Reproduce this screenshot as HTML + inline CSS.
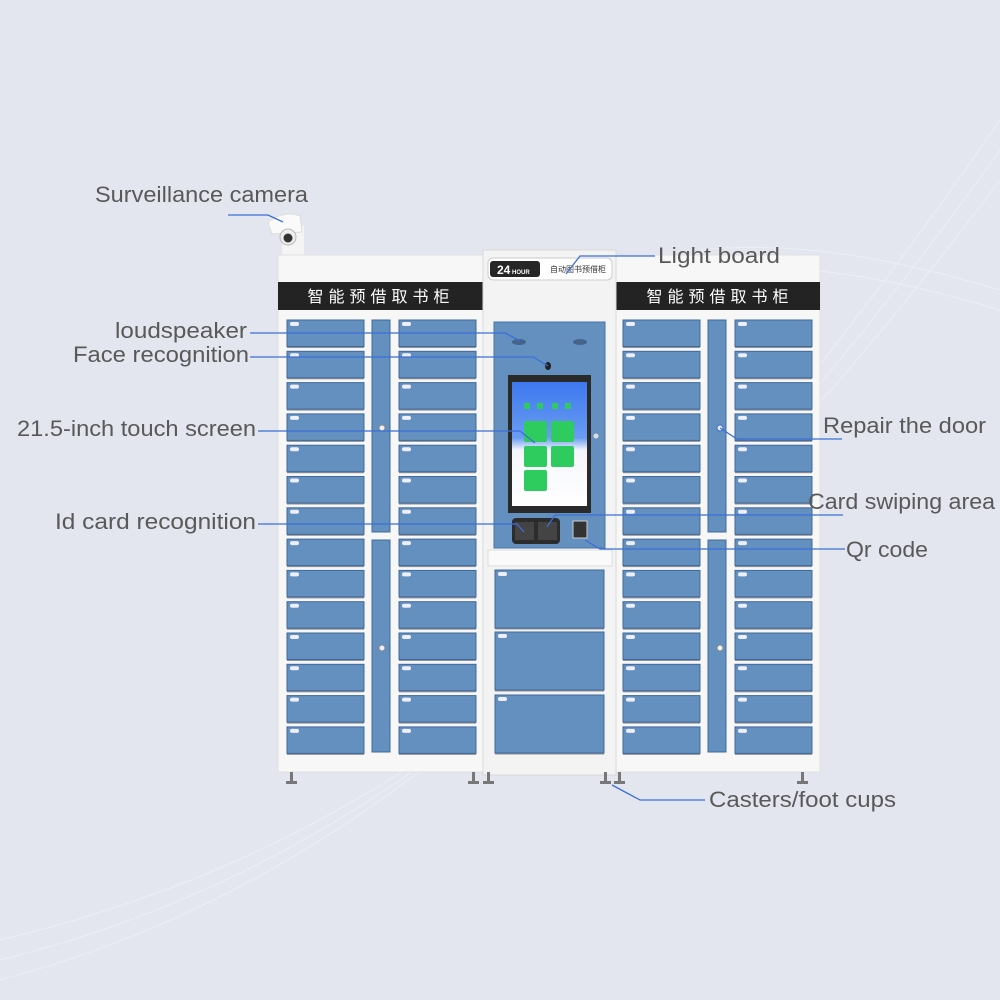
<!DOCTYPE html>
<html><head><meta charset="utf-8"><style>
html,body{margin:0;padding:0;background:#e3e6ee;}
svg{display:block}
.l{font-family:"Liberation Sans","Noto Sans CJK SC",sans-serif;font-size:22px;fill:#595959;}
.cn{font-family:"Noto Sans CJK SC","WenQuanYi Zen Hei",sans-serif;font-size:16px;fill:#fff;letter-spacing:5px;}
.ln{stroke:#3a6fd8;stroke-width:1.3;fill:none}
</style></head><body>
<svg id="s" width="1000" height="1000" viewBox="0 0 1000 1000" xmlns="http://www.w3.org/2000/svg">
<defs>
<linearGradient id="scr" x1="0" y1="0" x2="0" y2="1"><stop offset="0" stop-color="#3d78ef"/><stop offset="0.45" stop-color="#6a9cf2"/><stop offset="0.55" stop-color="#f4f6fb"/><stop offset="1" stop-color="#ffffff"/></linearGradient>
</defs>
<rect width="1000" height="1000" fill="#e3e6ee"/>
<g fill="none" stroke="#eef0f5" stroke-width="1" opacity="0.8">
<path d="M0 980 C300 900 600 700 1000 120"/>
<path d="M0 960 C320 880 620 680 1000 150"/>
<path d="M0 940 C340 860 640 660 1000 180"/>
<path d="M700 250 C800 240 900 260 1000 290"/>
<path d="M700 270 C800 260 900 280 1000 310"/>
</g>
<!-- camera -->
<rect x="282" y="226" width="22" height="32" fill="#f4f4f4"/>
<path d="M268 222 Q285 210 300 216 L302 232 L272 234 Z" fill="#fafafa" stroke="#ddd"/>
<circle cx="288" cy="237" r="8" fill="#eee" stroke="#bbb"/>
<circle cx="288" cy="238" r="4.5" fill="#333"/>
<!-- left cabinet -->
<rect x="278" y="255" width="206" height="517" fill="#f7f7f7" stroke="#e0e0e0"/>
<rect x="278" y="282" width="206" height="28" fill="#232323"/>
<text x="381" y="302" class="cn" text-anchor="middle">智能预借取书柜</text>
<!-- right cabinet -->
<rect x="616" y="255" width="204" height="517" fill="#f7f7f7" stroke="#e0e0e0"/>
<rect x="616" y="282" width="204" height="28" fill="#232323"/>
<text x="720" y="302" class="cn" text-anchor="middle">智能预借取书柜</text>
<!-- center -->
<rect x="483" y="250" width="133" height="525" fill="#f3f3f3" stroke="#d8d8d8"/>
<rect x="488" y="258" width="124" height="22" rx="5" fill="#fff" stroke="#ccc"/>
<rect x="490" y="261" width="50" height="16" rx="3" fill="#262626"/>
<text x="497" y="274" font-family="Liberation Sans" font-size="12" font-weight="bold" fill="#fff">24<tspan font-size="6"> HOUR</tspan></text>
<text x="550" y="272" font-family="Noto Sans CJK SC,sans-serif" font-size="8" fill="#333">自动图书预借柜</text>
<rect x="494" y="322" width="111" height="226" fill="#6390bf" stroke="#4a76a6"/>
<ellipse cx="519" cy="342" rx="7" ry="3" fill="#44648a"/>
<ellipse cx="580" cy="342" rx="7" ry="3" fill="#44648a"/>
<ellipse cx="548" cy="366" rx="3" ry="4" fill="#222"/>
<rect x="508" y="375" width="83" height="138" fill="#2a2a2a"/>
<rect x="512" y="382" width="75" height="124" fill="url(#scr)"/>
<g fill="#2ecc5f">
<rect x="524" y="403" width="6" height="6"/><rect x="537" y="403" width="6" height="6"/><rect x="552" y="403" width="6" height="6"/><rect x="565" y="403" width="6" height="6"/>
<rect x="524" y="421" width="23" height="21" rx="2"/><rect x="551" y="421" width="23" height="21" rx="2"/>
<rect x="524" y="446" width="23" height="21" rx="2"/><rect x="551" y="446" width="23" height="21" rx="2"/>
<rect x="524" y="470" width="23" height="21" rx="2"/>
</g>
<circle cx="596" cy="436" r="2.5" fill="#ddd"/>
<rect x="512" y="518" width="48" height="26" rx="4" fill="#2c2c2c"/>
<rect x="515" y="522" width="19" height="18" fill="#444"/><rect x="538" y="522" width="19" height="18" fill="#444"/>
<rect x="573" y="521" width="14" height="17" fill="#333" stroke="#ccc"/>
<rect x="488" y="550" width="124" height="16" fill="#fafafa" stroke="#ddd"/>
<g id="cl"></g>
<!-- feet -->
<g fill="#777">
<rect x="290" y="772" width="3" height="10"/><rect x="286" y="781" width="11" height="3"/>
<rect x="472" y="772" width="3" height="10"/><rect x="468" y="781" width="11" height="3"/>
<rect x="487" y="772" width="3" height="10"/><rect x="483" y="781" width="11" height="3"/>
<rect x="604" y="772" width="3" height="10"/><rect x="600" y="781" width="11" height="3"/>
<rect x="618" y="772" width="3" height="10"/><rect x="614" y="781" width="11" height="3"/>
<rect x="801" y="772" width="3" height="10"/><rect x="797" y="781" width="11" height="3"/>
</g>
<circle cx="382" cy="428" r="3" fill="#eee" stroke="#888"/>
<circle cx="382" cy="648" r="3" fill="#eee" stroke="#888"/>
<circle cx="720" cy="428" r="3" fill="#eee" stroke="#3a6fd8"/>
<circle cx="720" cy="648" r="3" fill="#eee" stroke="#888"/>
<!-- leader lines -->
<path class="ln" d="M228 215 H268 L283 222"/>
<path class="ln" d="M566 274 L580 256 H655"/>
<path class="ln" d="M250 333 H505 L520 341"/>
<path class="ln" d="M250 357 H533 L548 366"/>
<path class="ln" d="M258 431 H520 L535 443"/>
<path class="ln" d="M258 524 H517 L524 532"/>
<path class="ln" d="M720 428 L737 439 H842"/>
<path class="ln" d="M547 527 L555 515 H843"/>
<path class="ln" d="M585 540 L600 549 H845"/>
<path class="ln" d="M612 785 L640 800 H705"/>
<!-- labels -->
<text class="l" x="95" y="202" textLength="213" lengthAdjust="spacingAndGlyphs">Surveillance camera</text>
<text class="l" x="658" y="263" textLength="122" lengthAdjust="spacingAndGlyphs">Light board</text>
<text class="l" x="115" y="338" textLength="132" lengthAdjust="spacingAndGlyphs">loudspeaker</text>
<text class="l" x="73" y="362" textLength="176" lengthAdjust="spacingAndGlyphs">Face recognition</text>
<text class="l" x="17" y="436" textLength="239" lengthAdjust="spacingAndGlyphs">21.5-inch touch screen</text>
<text class="l" x="55" y="529" textLength="201" lengthAdjust="spacingAndGlyphs">Id card recognition</text>
<text class="l" x="823" y="433" textLength="163" lengthAdjust="spacingAndGlyphs">Repair the door</text>
<text class="l" x="808" y="509" textLength="187" lengthAdjust="spacingAndGlyphs">Card swiping area</text>
<text class="l" x="846" y="557" textLength="82" lengthAdjust="spacingAndGlyphs">Qr code</text>
<text class="l" x="709" y="807" textLength="187" lengthAdjust="spacingAndGlyphs">Casters/foot cups</text>
</svg>
<script>
var g=document.getElementById('cl'),h='';
function box(x,y,w,hh){h+='<rect x="'+x+'" y="'+(y+1.5)+'" width="'+w+'" height="'+hh+'" fill="#3a3f48" opacity="0.55"/>'+
'<rect x="'+x+'" y="'+y+'" width="'+w+'" height="'+hh+'" fill="#6390bf" stroke="#41689a" stroke-width="1"/>'+
'<rect x="'+(x+3)+'" y="'+(y+2)+'" width="9" height="4" rx="2" fill="#eef"/>';}
[287,399,623,735].forEach(function(x){for(var i=0;i<14;i++){box(x,320+i*31.3,77,26.5);}});
[[372,320,212],[372,540,212],[708,320,212],[708,540,212]].forEach(function(b){h+='<rect x="'+b[0]+'" y="'+b[1]+'" width="18" height="'+b[2]+'" fill="#6390bf" stroke="#41689a"/>';});
box(495,570,109,58);box(495,632,109,58);box(495,695,109,58);
g.innerHTML=h;
</script>
</body></html>
